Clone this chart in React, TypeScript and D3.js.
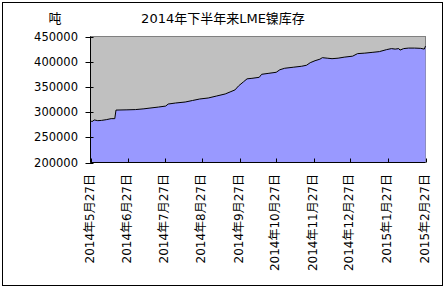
import React from "react";
import * as d3 from "d3";

const dates: string[] = [
  "2014-05-27","2014-05-28","2014-05-29","2014-05-30","2014-06-02","2014-06-05","2014-06-09","2014-06-13",
  "2014-06-16","2014-06-17","2014-06-26","2014-07-03","2014-07-10","2014-07-15","2014-07-22","2014-07-28",
  "2014-07-30","2014-08-05","2014-08-13","2014-08-19","2014-08-25","2014-09-01","2014-09-08","2014-09-15",
  "2014-09-19","2014-09-23","2014-09-26","2014-09-30","2014-10-03","2014-10-07","2014-10-13","2014-10-15",
  "2014-10-21","2014-10-27","2014-10-30","2014-11-03","2014-11-10","2014-11-17","2014-11-21","2014-11-24",
  "2014-11-28","2014-12-02","2014-12-04","2014-12-08","2014-12-12","2014-12-17","2014-12-22","2014-12-29",
  "2015-01-02","2015-01-08","2015-01-14","2015-01-20","2015-01-26","2015-01-30","2015-02-02","2015-02-05",
  "2015-02-06","2015-02-09","2015-02-13","2015-02-18","2015-02-23","2015-02-26","2015-02-27",
];

const stocks: number[] = [
  283000,281500,282000,284500,283000,283500,285000,287000,
  287000,304000,304500,305000,306500,308000,310000,312000,
  316000,318000,320000,323000,326000,328000,332000,336000,
  340000,344000,352000,360000,366000,367000,369000,375000,
  377000,379000,384000,387000,389000,391000,393000,398000,
  402000,405000,408000,407000,406000,407000,409000,411000,
  416000,417000,418500,420000,424000,426000,425000,426000,
  423000,426000,427000,427000,426500,425000,431000,
];

const yTicks: number[] = [200000, 250000, 300000, 350000, 400000, 450000];

const xTickDates: string[] = [
  "2014-05-27","2014-06-27","2014-07-27","2014-08-27","2014-09-27",
  "2014-10-27","2014-11-27","2014-12-27","2015-01-27","2015-02-27",
];
const xTickLabels: string[] = [
  "2014年5月27日","2014年6月27日","2014年7月27日","2014年8月27日","2014年9月27日",
  "2014年10月27日","2014年11月27日","2014年12月27日","2015年1月27日","2015年2月27日",
];

const title = "2014年下半年来LME镍库存";
const unit = "吨";

const W = 446, H = 289;
const L = 90.5, R = 425.5, T = 36.5, B = 162.5;
const FONT = "'DejaVu Sans', 'Noto Sans CJK SC', sans-serif";

export default function App() {
  const parse = d3.utcParse("%Y-%m-%d");
  const x = d3.scaleUtc()
    .domain([parse("2014-05-27")!, parse("2015-02-27")!])
    .range([L, R]);
  const y = d3.scaleLinear().domain([200000, 450000]).range([B, T]);

  const pts = dates.map((d, i) => ({ t: parse(d)!, v: stocks[i] }));
  const area = d3.area<{ t: Date; v: number }>()
    .x(d => x(d.t)).y0(B).y1(d => y(d.v))(pts) || "";
  const line = d3.line<{ t: Date; v: number }>()
    .x(d => x(d.t)).y(d => y(d.v))(pts) || "";

  return (
    <svg width={W} height={H} style={{ position: "absolute", left: 0, top: 0, background: "#fff" }}
      fontFamily={FONT}>
      <rect x={2.5} y={2.5} width={440} height={283} fill="#fff" stroke="#000" strokeWidth={1} />
      <rect x={L} y={T} width={R - L} height={B - T} fill="#C0C0C0" stroke="#808080" strokeWidth={1} />
      <path d={area} fill="#9999FF" />
      <path d={line} fill="none" stroke="#000" strokeWidth={1} />
      <line x1={L} x2={L} y1={T} y2={B} stroke="#000" />
      <line x1={L} x2={R} y1={B} y2={B} stroke="#000" />
      {yTicks.map(v => (
        <g key={v}>
          <line x1={L - 5} x2={L + 3} y1={Math.round(y(v)) + 0.5} y2={Math.round(y(v)) + 0.5} stroke="#000" />
          <text x={78} y={y(v)} dy="0.35em" textAnchor="end" fontSize={11.5} fill="#000">{v}</text>
        </g>
      ))}
      {xTickDates.map((d, i) => {
        const px = Math.round(x(parse(d)!)) + 0.5;
        return (
          <g key={d}>
            <line x1={px} x2={px} y1={B - 4} y2={B} stroke="#000" />
            <text transform={`translate(${px - 1.5},174) rotate(-90)`} dy="0.35em" textAnchor="end"
              fontSize={12} fill="#000">{xTickLabels[i]}</text>
          </g>
        );
      })}
      <text x={223} y={18} dy="0.35em" textAnchor="middle" fontSize={13} fill="#000">{title}</text>
      <text x={55} y={18} dy="0.35em" textAnchor="middle" fontSize={13} fill="#000">{unit}</text>
    </svg>
  );
}
